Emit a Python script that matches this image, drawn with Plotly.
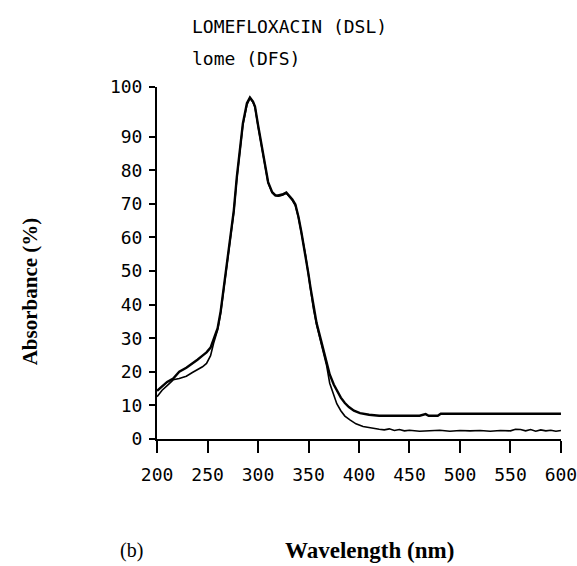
import plotly.graph_objects as go

# ---- data ----
wl_dsl = [200, 205, 210, 216, 222, 229, 235, 240, 245, 249, 253, 256, 260, 263, 267,
          270, 273, 276, 279, 282, 285, 289, 292, 295, 297, 300, 304, 307, 310, 314,
          317, 320, 324, 328, 331, 334, 337, 340, 343, 347, 350, 352, 355, 358, 362,
          365, 368, 371, 375, 378, 382, 386, 390, 395, 401, 410, 420, 440, 460, 466,
          469, 478, 481, 500, 520, 540, 560, 580, 600]
abs_dsl = [14.3, 15.8, 17.0, 18.0, 20.0, 21.2, 22.4, 23.6, 24.8, 25.8, 27.2, 29.5, 33.0, 38.0, 47.0,
           53.0, 60.0, 68.0, 78.0, 86.0, 94.0, 100.0, 101.7, 100.5, 99.0, 93.5, 86.5, 81.0, 76.5, 73.5,
           72.6, 72.5, 72.8, 73.4, 72.5, 71.3, 69.8, 66.2, 61.5, 55.0, 49.0, 45.0, 39.0, 34.5, 29.8,
           26.3, 22.5, 19.2, 16.2, 14.4, 12.3, 10.7, 9.5, 8.4, 7.7, 7.2, 6.9, 6.9, 6.9, 7.4,
           6.9, 6.9, 7.5, 7.5, 7.5, 7.5, 7.5, 7.5, 7.5]

wl_dfs = [200, 205, 210, 216, 222, 229, 235, 240, 245, 249, 253, 256, 260, 263, 267,
          270, 273, 276, 279, 282, 285, 289, 292, 295, 297, 300, 304, 307, 310, 314,
          317, 320, 324, 328, 331, 334, 337, 340, 343, 347, 350, 352, 355, 358, 362,
          365, 368, 371, 375, 378, 382, 386, 391, 397, 404, 412, 420, 425, 430, 435,
          440, 445, 450, 460, 470, 480, 490, 500, 510, 520, 530, 540, 550, 555, 560,
          565, 570, 575, 580, 585, 590, 595, 600]
abs_dfs = [12.6, 14.5, 15.9, 17.6, 18.0, 18.7, 19.8, 20.6, 21.5, 22.5, 24.8, 28.5, 32.5, 37.5, 46.5,
           52.5, 59.5, 67.5, 77.5, 85.5, 93.5, 99.5, 101.5, 100.3, 98.8, 93.2, 86.2, 80.8, 76.2, 73.3,
           72.4, 72.3, 72.6, 73.2, 72.3, 71.1, 69.5, 66.0, 61.2, 54.8, 48.7, 44.6, 38.6, 34.0, 29.2,
           25.6, 21.8, 16.6, 12.8, 10.5, 8.4, 6.8, 5.7, 4.5, 3.7, 3.2, 2.9, 2.7, 3.0, 2.5,
           2.8, 2.4, 2.6, 2.3, 2.5, 2.6, 2.3, 2.5, 2.4, 2.5, 2.3, 2.5, 2.4, 2.9, 2.8,
           2.4, 2.8, 2.3, 2.7, 2.4, 2.6, 2.3, 2.5]

x_ticks = [200, 250, 300, 350, 400, 450, 500, 550, 600]
y_tick_vals = [0, 10, 20, 30, 40, 50, 60, 70, 80, 90, 104.8]
y_tick_text = ["0", "10", "20", "30", "40", "50", "60", "70", "80", "90", "100"]
legend_lines = ["LOMEFLOXACIN (DSL)", "lome (DFS)"]

mono = "DejaVu Sans Mono"
serif = "Liberation Serif"

fig = go.Figure()
fig.add_trace(go.Scatter(x=wl_dsl, y=abs_dsl, mode="lines",
                         line=dict(color="black", width=2.4), name=legend_lines[0]))
fig.add_trace(go.Scatter(x=wl_dfs, y=abs_dfs, mode="lines",
                         line=dict(color="black", width=1.6), name=legend_lines[1]))

fig.update_layout(
    width=577, height=566,
    margin=dict(l=157, r=16, t=87, b=127),
    paper_bgcolor="white", plot_bgcolor="white",
    showlegend=False,
    font=dict(family=mono, color="black", size=18),
)
fig.update_xaxes(range=[199.95, 600.05], tickvals=x_ticks, ticktext=[str(v) for v in x_ticks],
                 showgrid=False, zeroline=False, showline=True, linecolor="black", linewidth=2,
                 ticks="outside", ticklen=12, tickwidth=2, tickcolor="black",
                 tickfont=dict(family=mono, size=18, color="black"), ticklabelstandoff=6,
                 ticklabeloverflow="allow", automargin=False)
fig.update_yaxes(range=[-0.02, 104.82], tickvals=y_tick_vals, ticktext=y_tick_text,
                 showgrid=False, zeroline=False, showline=True, linecolor="black", linewidth=2,
                 ticks="outside", ticklen=6, tickwidth=2, tickcolor="black",
                 tickfont=dict(family=mono, size=18, color="black"), ticklabelstandoff=3,
                 automargin=False)

ann = [
    dict(text=legend_lines[0], x=0.082, y=1.173, xanchor="left", yanchor="middle",
         font=dict(family=mono, size=18)),
    dict(text=legend_lines[1], x=0.082, y=1.082, xanchor="left", yanchor="middle",
         font=dict(family=mono, size=18)),
    dict(text="<b>Absorbance (%)</b>", x=-0.314, y=0.42, textangle=-90,
         xanchor="center", yanchor="middle", font=dict(family=serif, size=21)),
    dict(text="<b>Wavelength (nm)</b>", x=0.527, y=-0.318, xanchor="center", yanchor="middle",
         font=dict(family=serif, size=23)),
    dict(text="(b)", x=-0.064, y=-0.318, xanchor="center", yanchor="middle",
         font=dict(family=serif, size=20)),
]
for a in ann:
    a.update(xref="paper", yref="paper", showarrow=False)
    fig.add_annotation(**a)

fig.write_html("out.html")
